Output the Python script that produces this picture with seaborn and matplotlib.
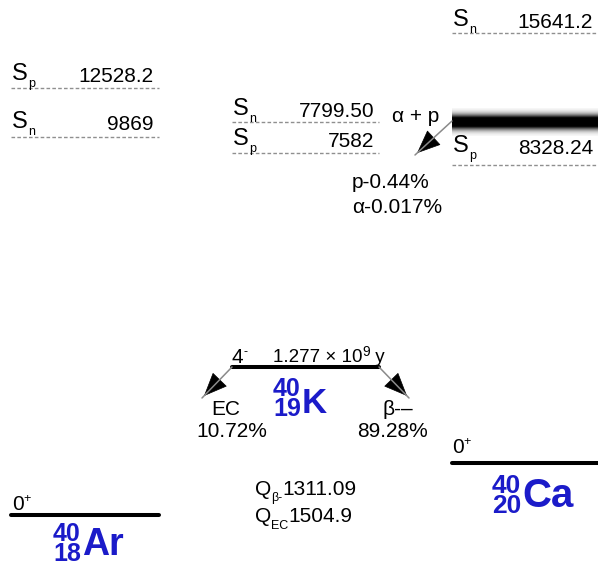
import numpy as np
import pandas as pd
import matplotlib
matplotlib.use("Agg")
import matplotlib.pyplot as plt
from matplotlib.patches import FancyArrowPatch
import seaborn as sns

# ---- decay data for 40K and its neighbours ----
nuclide_symbols = ["Ar", "K", "Ca"]
mass_numbers = [40, 40, 40]
atomic_numbers = [18, 19, 20]
ground_spins = ["0", "4", "0"]
spin_parities = ["+", "-", "+"]
sn_labels = ["9869", "7799.50", "15641.2"]
sp_labels = ["12528.2", "7582", "8328.24"]
branch_names = ["EC", "β-–"]
branch_percent = ["10.72", "89.28"]
half_life = "1.277 × 10"
half_life_exp = "9"
q_beta = "1311.09"
q_ec = "1504.9"
delayed_modes = ["p", "α"]
delayed_percent = ["0.44", "0.017"]
delayed_label = "α + p"

sns.set_theme(style="white")
plt.rcParams["font.family"] = ["Liberation Sans", "DejaVu Sans"]
plt.rcParams["text.color"] = "black"

W, H = 598, 568
fig = plt.figure(figsize=(W / 100, H / 100), dpi=100)
ax = fig.add_axes([0, 0, 1, 1])
renderer = fig.canvas.get_renderer()

# column geometry (canvas units = pixels)
col_x = [(11, 159), (232, 379), (452, 598)]
ground_y = [515, 367, 463]
sn_line = [137, 122, 33]
sp_line = [88, 153, 165]
sn_text = [129, 116, 27]
sp_text = [81, 146, 153]

blue = "#1b1bc9"
dash_col = "#8f8f8f"
fs = 15

# ground-state levels drawn with seaborn
lev = pd.DataFrame({
    "x": [v for c in col_x for v in c],
    "y": [v for g in ground_y for v in (g, g)],
    "nuc": [s for s in nuclide_symbols for _ in range(2)],
})
sns.lineplot(data=lev, x="x", y="y", units="nuc", estimator=None,
             color="black", lw=2.9, ax=ax, legend=False)
ax.set_xlim(0, W)
ax.set_ylim(H, 0)
ax.axis("off")


def run_text(x, y, parts, **kw):
    """Draw pieces of text side by side; parts = (string, size, dy)."""
    for s, size, dy in parts:
        t = ax.text(x, y + dy, s, fontsize=size, va="baseline", ha="left", **kw)
        bb = t.get_window_extent(renderer)
        x += bb.width
    return x


def threshold(i, y, ty, name, value):
    x0, x1 = col_x[i]
    ax.plot([x0, x1], [y, y], color=dash_col, lw=1.0, dashes=(2.6, 1.6))
    run_text(x0 + 1, ty - 1, [("S", 17, 0), (name, 9, 7)])
    ax.text(x1 - 5, ty + 1, value, fontsize=fs, va="baseline", ha="right")


for i in range(3):
    threshold(i, sn_line[i], sn_text[i], "n", sn_labels[i])
    threshold(i, sp_line[i], sp_text[i], "p", sp_labels[i])

# spins / parities above ground levels
spin_pos = [(12, 510), (232, 363), (452, 453)]
for (sx, sy), j, p in zip(spin_pos, ground_spins, spin_parities):
    run_text(sx, sy, [(j, fs, 0), (p, 9, -8)])

# nuclide labels:
# (digit x, lower-digit baseline, symbol x, symbol baseline, digit size, symbol size)
lab_pos = [(53, 561, 82, 555, 18, 27),
           (273, 416, 302, 413, 18, 25),
           (492, 513, 522, 507, 19, 29)]
for (nx, nb, sx, base, dfs, sfs), a, z, s in zip(lab_pos, mass_numbers,
                                                 atomic_numbers, nuclide_symbols):
    # mass number stacked over atomic number
    ax.text(nx, nb, f"{a}\n{z}", fontsize=dfs, fontweight="bold", color=blue,
            va="baseline", ha="left", linespacing=0.78)
    ax.text(sx, base, s, fontsize=sfs, fontweight="bold", color=blue,
            va="baseline", ha="left")

# half-life of 40K
run_text(273, 362, [(half_life, 13.5, 0), (half_life_exp, 10, -6), (" y", 13.5, 0)])


def arrow(p0, p1):
    p0 = np.array(p0, float)
    p1 = np.array(p1, float)
    ax.plot([p0[0], p1[0]], [p0[1], p1[1]], color="#8a8a8a", lw=1.1)
    d = (p1 - p0) / np.linalg.norm(p1 - p0)
    ax.add_patch(FancyArrowPatch(tuple(p1 - d * 20), tuple(p1),
                                 arrowstyle="-|>,head_length=1.3,head_width=0.55",
                                 mutation_scale=12, color="black", lw=0.5))


# decay branches of 40K
arrow((232, 367), (202, 398))
arrow((379, 367), (409, 398))
ax.text(226, 415, branch_names[0], fontsize=fs, ha="center", va="baseline")
ax.text(232, 437, branch_percent[0] + "%", fontsize=fs, ha="center", va="baseline")
ax.text(398, 415, branch_names[1], fontsize=fs, ha="center", va="baseline")
ax.text(392, 437, branch_percent[1] + "%", fontsize=fs, ha="center", va="baseline")

# Q values
run_text(255, 495, [("Q", fs, 0), ("β-", 9, 6), (q_beta, fs, 0)])
run_text(255, 522, [("Q", fs, 0), ("EC", 9, 7), (q_ec, fs, 0)])

# broad excited state in 40Ca feeding alpha / proton emission
yy = np.linspace(108, 136, 120)
alpha_prof = np.clip(1.5 * np.exp(-((yy - 122) / 7.0) ** 2), 0, 1)
img = np.zeros((len(yy), 2, 4))
img[..., 3] = alpha_prof[:, None]
ax.imshow(img, extent=(452, 598, 136, 108), aspect="auto",
          interpolation="bilinear", zorder=2)
ax.set_xlim(0, W)
ax.set_ylim(H, 0)

ax.text(392, 122, delayed_label, fontsize=fs, va="baseline", ha="left")
arrow((452, 121), (415, 155))
ax.text(352, 188, delayed_modes[0] + "-" + delayed_percent[0] + "%",
        fontsize=fs, va="baseline", ha="left")
ax.text(352, 213, delayed_modes[1] + "-" + delayed_percent[1] + "%",
        fontsize=fs, va="baseline", ha="left")

fig.savefig("out.png", dpi=100, facecolor="white")
